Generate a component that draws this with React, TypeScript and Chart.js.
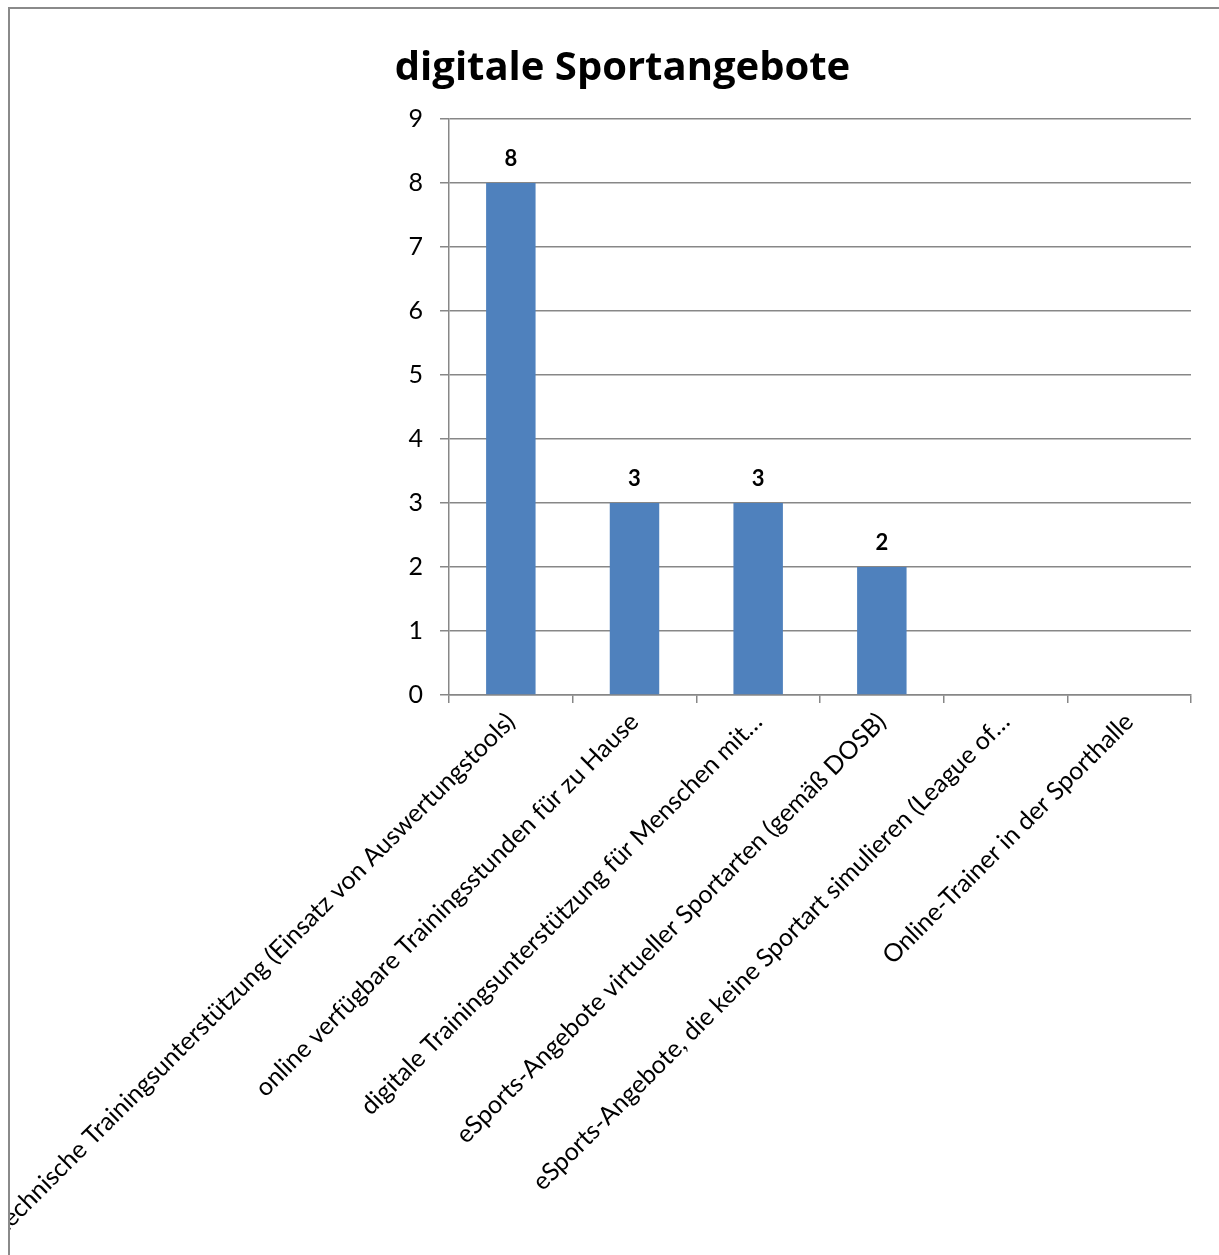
import React, { useEffect, useRef } from "react";
import { Chart, registerables } from "chart.js";

Chart.register(...registerables);

const chartTitle = "digitale Sportangebote";
const categories = [
  "technische Trainingsunterstützung (Einsatz von Auswertungstools)",
  "online verfügbare Trainingsstunden für zu Hause",
  "digitale Trainingsunterstützung für Menschen mit…",
  "eSports-Angebote virtueller Sportarten (gemäß DOSB)",
  "eSports-Angebote, die keine Sportart simulieren (League of…",
  "Online-Trainer in der Sporthalle",
];
const values = [8, 3, 3, 2, 0, 0];
const yMin = 0;
const yMax = 9;
const yStep = 1;

const FONT = "Lato, 'Open Sans', sans-serif";
const TITLE_FONT = "'Open Sans', Lato, sans-serif";
const GRID = "#878787";
const CANVAS_W = 1209;
const CANVAS_H = 1246;

const titlePlugin = {
  id: "customTitle",
  afterDraw(chart: any) {
    const ctx = chart.ctx;
    ctx.save();
    ctx.font = `bold 40px ${TITLE_FONT}`;
    ctx.fillStyle = "#000";
    ctx.textAlign = "center";
    ctx.textBaseline = "middle";
    ctx.fillText(chartTitle, 612.5, 60);
    ctx.restore();
  },
};

const valueLabelPlugin = {
  id: "valueLabels",
  afterDatasetsDraw(chart: any) {
    const ctx = chart.ctx;
    const meta = chart.getDatasetMeta(0);
    ctx.save();
    ctx.font = `bold 22px ${FONT}`;
    ctx.fillStyle = "#000";
    ctx.textAlign = "center";
    ctx.textBaseline = "alphabetic";
    meta.data.forEach((bar: any, i: number) => {
      const v = values[i];
      if (!v) return;
      ctx.fillText(String(v), bar.x, bar.y - 17);
    });
    ctx.restore();
  },
};

export default function App() {
  const ref = useRef<HTMLCanvasElement | null>(null);

  useEffect(() => {
    if (!ref.current) return;
    const chart = new Chart(ref.current, {
      type: "bar",
      data: {
        labels: categories,
        datasets: [
          {
            data: values,
            backgroundColor: "#4f81bd",
            borderWidth: 0,
            barPercentage: 0.4,
            categoryPercentage: 1,
          },
        ],
      },
      options: {
        animation: false,
        responsive: false,
        maintainAspectRatio: false,
        layout: { padding: { left: 0, right: 28, top: 110, bottom: 0 } },
        plugins: {
          legend: { display: false },
          title: { display: false },
          tooltip: { enabled: false },
        },
        scales: {
          x: {
            type: "category",
            offset: true,
            grid: {
              offset: true,
              drawOnChartArea: false,
              drawTicks: true,
              tickLength: 8,
              color: GRID,
              lineWidth: 1.5,
            },
            border: { color: GRID, width: 1.5 },
            ticks: {
              autoSkip: false,
              maxRotation: 45,
              minRotation: 45,
              padding: 4,
              color: "#000",
              font: { family: FONT, size: 25 },
            },
            afterFit(scale: any) {
              scale.height = CANVAS_H - 686;
              scale.paddingLeft = 0;
              scale.paddingRight = 0;
            },
          },
          y: {
            min: yMin,
            max: yMax,
            grid: { color: GRID, lineWidth: 1.5, tickLength: 9 },
            border: { color: GRID, width: 1.5 },
            ticks: {
              stepSize: yStep,
              padding: 17,
              color: "#000",
              font: { family: FONT, size: 25 },
            },
            afterFit(scale: any) {
              scale.width = 439;
              scale.paddingTop = 0;
              scale.paddingBottom = 0;
            },
          },
        },
      },
      plugins: [titlePlugin, valueLabelPlugin],
    } as any);
    return () => chart.destroy();
  }, []);

  return (
    <div
      style={{
        position: "fixed",
        left: 8,
        top: 7,
        width: 1211,
        height: 1248,
        boxSizing: "border-box",
        borderLeft: "2px solid #8a8a8a",
        borderTop: "2px solid #8a8a8a",
        background: "#fff",
        overflow: "hidden",
      }}
    >
      <canvas
        ref={ref}
        width={CANVAS_W}
        height={CANVAS_H}
        style={{ display: "block", width: CANVAS_W, height: CANVAS_H }}
      />
    </div>
  );
}
